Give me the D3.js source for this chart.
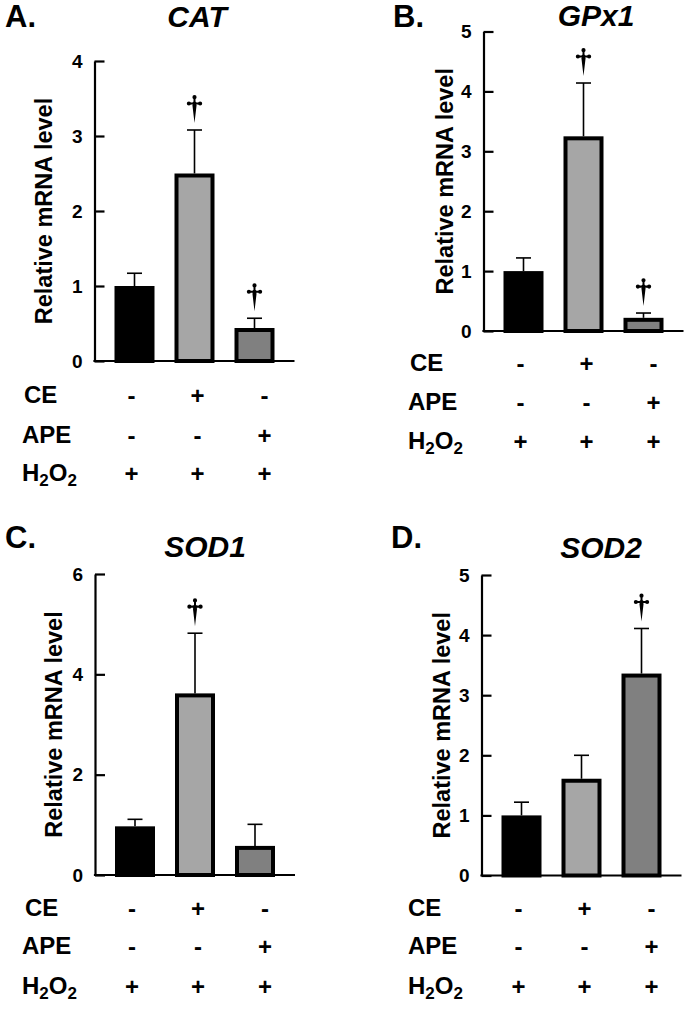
<!DOCTYPE html>
<html><head><meta charset="utf-8">
<script src="https://cdn.jsdelivr.net/npm/d3@7"></script>
<style>
body{margin:0;background:#fff}
svg{display:block}
text{font-family:"Liberation Sans",Arial,sans-serif;font-weight:bold;fill:#000}
</style>
</head><body><svg id="c" width="685" height="1028"></svg>
<script>
// ---------- data ----------
const groups = ["g1","g2","g3"];
const rowNames = ["CE","APE","H2O2"];
const ceSigns = ["-","+","-"];
const apeSigns = ["-","-","+"];
const h2o2Signs = ["+","+","+"];
const genes = ["CAT","GPx1","SOD1","SOD2"];
const panelLetters = ["A.","B.","C.","D."];
const yTitle = "Relative mRNA level";

const catMean = [1.00, 2.50, 0.44];
const catErr  = [0.17, 0.58, 0.13];
const catSig  = [false, true, true];
const catTicks = [0,1,2,3,4];

const gpx1Mean = [1.00, 3.25, 0.22];
const gpx1Err  = [0.22, 0.89, 0.08];
const gpx1Sig  = [false, true, true];
const gpx1Ticks = [0,1,2,3,4,5];

const sod1Mean = [0.97, 3.62, 0.58];
const sod1Err  = [0.14, 1.20, 0.43];
const sod1Sig  = [false, true, false];
const sod1Ticks = [0,2,4,6];

const sod2Mean = [1.00, 1.61, 3.36];
const sod2Err  = [0.22, 0.39, 0.75];
const sod2Sig  = [false, false, true];
const sod2Ticks = [0,1,2,3,4,5];

const barFills = ["#000000","#a6a6a6","#808080"];

// ---------- layout ----------
const panels = [
  {mean:catMean, err:catErr, sig:catSig, ticks:catTicks},
  {mean:gpx1Mean, err:gpx1Err, sig:gpx1Sig, ticks:gpx1Ticks},
  {mean:sod1Mean, err:sod1Err, sig:sod1Sig, ticks:sod1Ticks},
  {mean:sod2Mean, err:sod2Err, sig:sod2Sig, ticks:sod2Ticks}
];
const layouts = [
  {x0:94.5, yTop:61, yBot:361, letterX:5, letterY:27, titleX:197, titleY:27, ylabX:52, rowX:[24,22,22], rowY:[403,443,481]},
  {x0:483.5, yTop:31.5, yBot:331, letterX:393, letterY:27, titleX:596, titleY:26, ylabX:453, rowX:[410,408,408], rowY:[371,410,449]},
  {x0:95, yTop:574, yBot:875, letterX:5, letterY:548, titleX:205, titleY:557, ylabX:62, rowX:[25,22,22], rowY:[916,954,994]},
  {x0:481.5, yTop:575, yBot:875.5, letterX:391, letterY:548, titleX:601, titleY:558, ylabX:450, rowX:[408,408,408], rowY:[916,954,994]}
];
const signCols = [37,103,170];
const signRows = [ceSigns, apeSigns, h2o2Signs];

const svg = d3.select("#c");

// dagger glyph path (top at 0, tip at 28), centered on x=0
function daggerPath(){
  const p = d3.path();
  const circ = (cx,cy,r)=>{p.moveTo(cx+r,cy);p.arc(cx,cy,r,0,Math.PI*2);};
  circ(0,2.2,2.1);
  circ(-5.6,8.5,2.1);
  circ(5.6,8.5,2.1);
  p.rect(-1,2,2,7);
  p.rect(-5.6,7.4,11.2,2.2);
  p.moveTo(0,5.5);p.lineTo(3,8.5);p.lineTo(0,11.5);p.lineTo(-3,8.5);p.closePath();
  p.moveTo(-2.1,10);p.lineTo(2.1,10);p.lineTo(0,28);p.closePath();
  return p.toString();
}
const dPath = daggerPath();

panels.forEach((p,i)=>{
  const L = layouts[i];
  const g = svg.append("g");
  const y = d3.scaleLinear().domain([0, p.ticks[p.ticks.length-1]]).range([L.yBot, L.yTop]);
  const x = d3.scalePoint().domain(groups).range([L.x0+40, L.x0+160]);
  const data = groups.map((k,j)=>({k, m:p.mean[j], e:p.err[j], s:p.sig[j], f:barFills[j]}));

  // letter + title
  g.append("text").attr("x",L.letterX).attr("y",L.letterY).attr("font-size",31).text(panelLetters[i]);
  g.append("text").attr("x",L.titleX).attr("y",L.titleY).attr("font-size",30)
    .attr("font-style","italic").attr("text-anchor","middle").text(genes[i]);

  // y title
  g.append("text").attr("transform",`translate(${L.ylabX},${(L.yTop+L.yBot)/2}) rotate(-90)`)
    .attr("text-anchor","middle").attr("font-size",23.5).text(yTitle);

  // error bars
  const eb = g.selectAll("g.eb").data(data).join("g");
  eb.append("line").attr("x1",d=>x(d.k)).attr("x2",d=>x(d.k))
    .attr("y1",d=>y(d.m)).attr("y2",d=>y(d.m+d.e)).attr("stroke","#000").attr("stroke-width",1.6);
  eb.append("line").attr("x1",d=>x(d.k)-7.5).attr("x2",d=>x(d.k)+7.5)
    .attr("y1",d=>y(d.m+d.e)).attr("y2",d=>y(d.m+d.e)).attr("stroke","#000").attr("stroke-width",1.6);

  // bars
  g.selectAll("rect.bar").data(data).join("rect")
    .attr("x",d=>x(d.k)-18).attr("width",36)
    .attr("y",d=>y(d.m)+2).attr("height",d=>L.yBot-y(d.m)-2)
    .attr("fill",d=>d.f).attr("stroke","#000").attr("stroke-width",4);

  // daggers
  g.selectAll("path.dag").data(data.filter(d=>d.s)).join("path")
    .attr("d",dPath).attr("fill","#000")
    .attr("transform",d=>`translate(${x(d.k)},${y(d.m+d.e)-35})`);

  // y axis
  const ax = g.append("g").attr("transform",`translate(${L.x0},0)`)
    .call(d3.axisLeft(y).tickValues(p.ticks).tickSizeInner(-10).tickSizeOuter(0).tickPadding(12).tickFormat(d3.format("d")));
  ax.attr("font-family",null).attr("font-size",null);
  ax.select(".domain").attr("stroke-width",2.2);
  ax.selectAll(".tick line").attr("stroke-width",2.2);
  ax.selectAll(".tick text").attr("font-size",19).attr("fill","#000");

  // x axis line
  g.append("line").attr("x1",L.x0-1.1).attr("x2",L.x0+200).attr("y1",L.yBot).attr("y2",L.yBot)
    .attr("stroke","#000").attr("stroke-width",2.2);

  // treatment rows
  rowNames.forEach((rn,r)=>{
    const t = g.append("text").attr("x",L.rowX[r]).attr("y",L.rowY[r]).attr("font-size",24);
    if(rn==="H2O2"){
      t.append("tspan").text("H");
      t.append("tspan").attr("font-size",17).attr("dy",5).text("2");
      t.append("tspan").attr("dy",-5).text("O");
      t.append("tspan").attr("font-size",17).attr("dy",5).text("2");
    } else t.text(rn);
    g.selectAll(null).data(signRows[r]).join("text")
      .attr("x",(d,c)=>L.x0+signCols[c]).attr("y",L.rowY[r]+1)
      .attr("text-anchor","middle").attr("font-size",24).text(d=>d);
  });
});
</script>
</body></html>
